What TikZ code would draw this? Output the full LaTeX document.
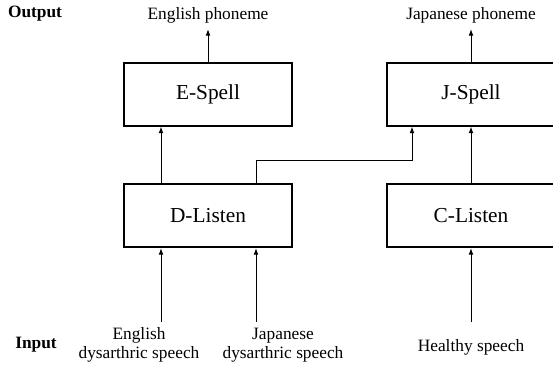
\documentclass[tikz,border=0pt]{standalone}
\usepackage{fontspec}
\setmainfont{Liberation Serif}
\usetikzlibrary{arrows.meta}

\tikzset{
  block/.style={draw, line width=1.5pt, minimum width=126pt, minimum height=47.25pt,
    inner sep=0pt, font=\fontsize{16}{18}\selectfont},
  lbl/.style={inner sep=0.75pt, align=center, font=\fontsize{13}{14.25}\selectfont},
  outlbl/.style={lbl, anchor=base, inner ysep=4.5pt},
  side/.style={lbl, font=\fontsize{13}{14.25}\selectfont\bfseries},
  arr/.style={-{Latex[length=5pt,width=3.6pt]}, line width=0.75pt},
}

\begin{document}
\begin{tikzpicture}[x=0.75pt,y=0.75pt,yscale=-1,xscale=1]
\useasboundingbox (0,0) rectangle (553,364);

% Blocks
\node[block] (espell) at (208,94) {E-Spell};
\node[block] (jspell) at (471,94) {J-Spell};
\node[block] (dlisten) at (208,215.5) {D-Listen};
\node[block] (clisten) at (471,215.5) {C-Listen};

% Output labels
\node[side] (outtag) at (35,14) {Output};
\node[outlbl] (enout) at (208,19) {English phoneme};
\node[outlbl] (jpout) at (471,19) {Japanese phoneme};

% Input labels
\node[side] (intag) at (36,345) {Input};
\node[lbl] (enin) at (139,345) {English\\dysarthric speech};
\node[lbl] (jpin) at (283,345) {Japanese\\dysarthric speech};
\node[lbl] (hsin) at (471,347) {Healthy speech};

% Arrow tails and bend
\coordinate (etail) at (161,322);
\coordinate (jtail) at (256,322);
\coordinate (htail) at (471,322);
\coordinate (bend) at (412,160);

% Connections
\draw[arr] (etail) -- (etail |- dlisten.south);
\draw[arr] (jtail) -- (jtail |- dlisten.south);
\draw[arr] (htail) -- (clisten.south);
\draw[arr] (etail |- dlisten.north) -- (etail |- espell.south);
\draw[arr] (jtail |- dlisten.north) |- (bend) -- (bend |- jspell.south);
\draw[arr] (clisten) -- (jspell);
\draw[arr] (espell) -- (enout);
\draw[arr] (jspell) -- (jpout);

\end{tikzpicture}
\end{document}
